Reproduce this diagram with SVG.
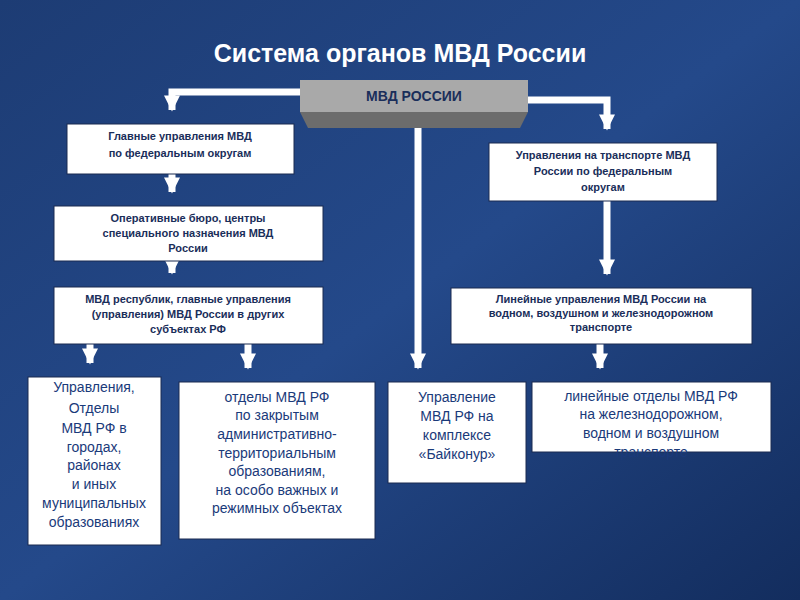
<svg xmlns="http://www.w3.org/2000/svg" width="800" height="600" viewBox="0 0 800 600">
<defs>
<linearGradient id="bg" x1="0" y1="0" x2="1" y2="1"><stop offset="0" stop-color="#1d3c74"/><stop offset="0.5" stop-color="#24498a"/><stop offset="1" stop-color="#132d5e"/></linearGradient>
<marker id="ah" viewBox="0 0 10 10" refX="9" refY="5" markerWidth="2.6" markerHeight="2.3" orient="auto" markerUnits="strokeWidth"><path d="M0,0 L10,5 L0,10 z" fill="#fff"/></marker>
</defs>
<style>
.box{fill:#fff;stroke:#1a2a50;stroke-width:1}
.b{font-family:"Liberation Sans",Arial,sans-serif;font-size:11px;font-weight:bold;fill:#1a2e5a;text-anchor:middle}
.n{font-family:"Liberation Sans",Arial,sans-serif;font-size:14px;fill:#1a3a7a;text-anchor:middle}
.c{fill:none;stroke:#fff;stroke-width:7}
</style>
<rect width="800" height="600" fill="url(#bg)"/>
<text x="400" y="62" font-family="Liberation Sans,Arial,sans-serif" font-size="25" font-weight="bold" fill="#fff" text-anchor="middle">Система органов МВД России</text>
<g id="connectors">
<path class="c" d="M302,92 H172 V110" marker-end="url(#ah)"/>
<path class="c" d="M172,174 V192" marker-end="url(#ah)"/>
<path class="c" d="M172,261 V273" marker-end="url(#ah)"/>
<path class="c" d="M90,344 V363" marker-end="url(#ah)"/>
<path class="c" d="M248,344 V368" marker-end="url(#ah)"/>
<path class="c" d="M418,128 V368" marker-end="url(#ah)"/>
<path class="c" d="M526,100 H607 V129" marker-end="url(#ah)"/>
<path class="c" d="M607,201 V274" marker-end="url(#ah)"/>
<path class="c" d="M600,344 V368" marker-end="url(#ah)"/>
</g>
<g id="mvd">
<polygon points="300,112 528,112 520,128 308,128" fill="#6c6c6c"/>
<rect x="300" y="80" width="228" height="32" fill="#a9a9a9"/>
<text x="414" y="101" font-family="Liberation Sans,Arial,sans-serif" font-size="14" font-weight="bold" fill="#1a2e5a" text-anchor="middle">МВД РОССИИ</text>
</g>
<g id="n1"><rect class="box" x="67" y="124" width="227" height="50"/>
<text class="b" x="180" y="140">Главные управления МВД</text><text class="b" x="180" y="157">по федеральным округам</text></g>
<g id="n2"><rect class="box" x="54" y="206" width="269" height="55"/>
<text class="b" x="188" y="222">Оперативные бюро, центры</text><text class="b" x="188" y="237">специального назначения МВД</text><text class="b" x="188" y="252">России</text></g>
<g id="n3"><rect class="box" x="54" y="287" width="269" height="57"/>
<text class="b" x="188" y="303">МВД республик, главные управления</text><text class="b" x="188" y="318">(управления) МВД России в других</text><text class="b" x="188" y="333">субъектах РФ</text></g>
<g id="n4"><rect class="box" x="28" y="377" width="133" height="168"/>
<text class="n" x="94" y="392">Управления,</text><text class="n" x="94" y="413">Отделы</text><text class="n" x="94" y="433">МВД РФ в</text><text class="n" x="94" y="452">городах,</text><text class="n" x="94" y="470">районах</text><text class="n" x="94" y="489">и иных</text><text class="n" x="94" y="508">муниципальных</text><text class="n" x="94" y="527">образованиях</text></g>
<g id="n5"><rect class="box" x="179" y="382" width="196" height="157"/>
<text class="n" x="277" y="402">отделы МВД РФ</text><text class="n" x="277" y="420">по закрытым</text><text class="n" x="277" y="439">административно-</text><text class="n" x="277" y="458">территориальным</text><text class="n" x="277" y="476">образованиям,</text><text class="n" x="277" y="495">на особо важных и</text><text class="n" x="277" y="513">режимных объектах</text></g>
<g id="n6"><rect class="box" x="388" y="382" width="138" height="101"/>
<text class="n" x="457" y="402">Управление</text><text class="n" x="457" y="421">МВД РФ на</text><text class="n" x="457" y="440">комплексе</text><text class="n" x="457" y="459">«Байконур»</text></g>
<g id="n7"><rect class="box" x="489" y="143" width="228" height="58"/>
<text class="b" x="603" y="159">Управления на транспорте МВД</text><text class="b" x="603" y="175">России по федеральным</text><text class="b" x="603" y="191">округам</text></g>
<g id="n8"><rect class="box" x="451" y="288" width="301" height="56"/>
<text class="b" x="601" y="303">Линейные управления МВД России на</text><text class="b" x="601" y="317">водном, воздушном и железнодорожном</text><text class="b" x="601" y="331">транспорте</text></g>
<g id="n9"><rect class="box" x="532" y="382" width="239" height="70"/>
<text class="n" x="651" y="401">линейные отделы МВД РФ</text><text class="n" x="651" y="419">на железнодорожном,</text><text class="n" x="651" y="438">водном и воздушном</text><text class="n" x="651" y="457">транспорте</text></g>
</svg>
